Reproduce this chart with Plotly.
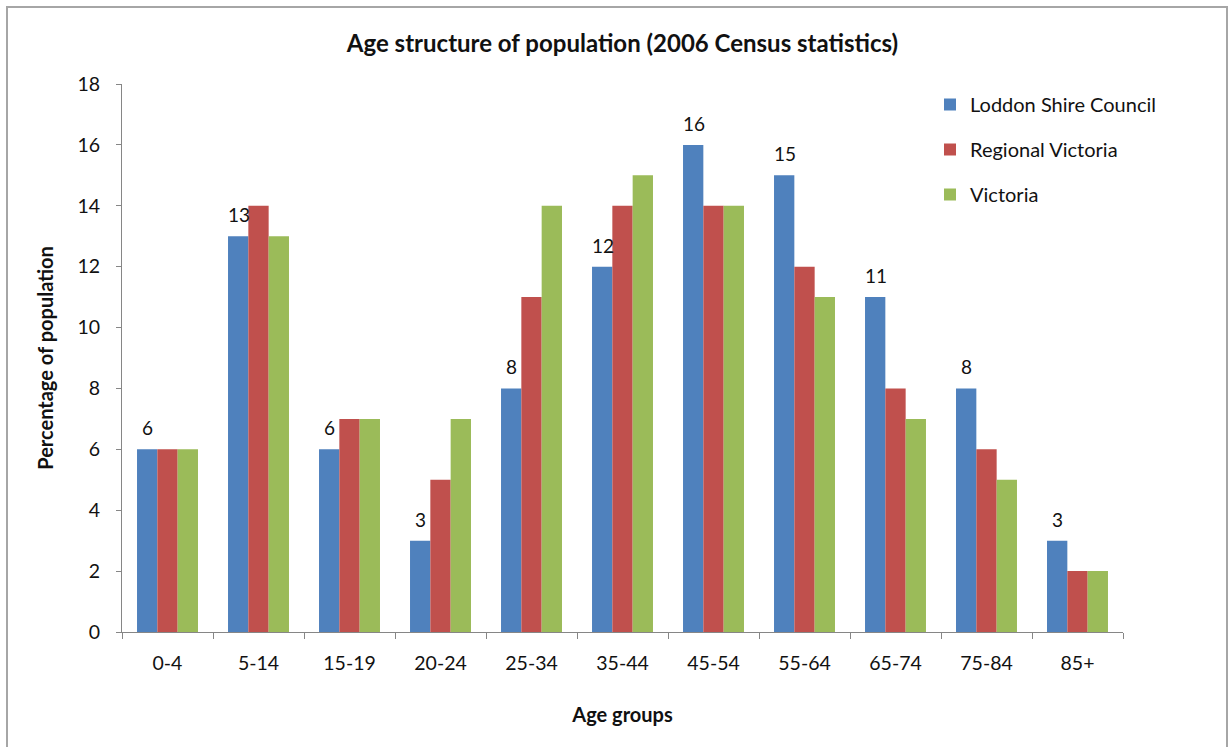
import plotly.graph_objects as go

age_groups = ["0-4", "5-14", "15-19", "20-24", "25-34", "35-44",
              "45-54", "55-64", "65-74", "75-84", "85+"]
loddon = [6, 13, 6, 3, 8, 12, 16, 15, 11, 8, 3]
regional = [6, 14, 7, 5, 11, 14, 14, 12, 8, 6, 2]
victoria = [6, 13, 7, 7, 14, 15, 14, 11, 7, 5, 2]

series_names = ["Loddon Shire Council", "Regional Victoria", "Victoria"]
series_colors = ["#4F81BD", "#C0504D", "#9BBB59"]

FONT = "Lato, Calibri, Arial, sans-serif"
TXT = "#111111"

fig = go.Figure()
for i, (name, vals, col) in enumerate(zip(series_names, [loddon, regional, victoria], series_colors)):
    fig.add_trace(go.Bar(
        x=age_groups, y=vals, name=name, marker=dict(color=col, line=dict(width=0)),
        legendgroup=f"g{i}",
    ))

# value labels over the Loddon bars (left bar of each group)
for cat, v in zip(age_groups, loddon):
    fig.add_annotation(
        x=cat, y=v, text=str(v), showarrow=False, xshift=-20, yshift=8,
        yanchor="bottom", font=dict(family=FONT, size=19, color=TXT),
    )

L, R, T, B = 122, 1123, 84, 632
W, H = 1229, 747
pw, ph = R - L, B - T

def px_x(x):
    return (x - L) / pw

def px_y(y):
    return (B - y) / ph

# outer chart frame
fig.add_shape(type="rect", xref="paper", yref="paper",
              x0=px_x(7), x1=px_x(1227), y0=px_y(770), y1=px_y(7),
              line=dict(color="#A6A6A6", width=2), layer="below")

fig.update_layout(
    width=W, height=H,
    margin=dict(l=L, r=W - R, t=T, b=H - B),
    paper_bgcolor="white", plot_bgcolor="white",
    barmode="group", bargap=0.33, bargroupgap=0,
    font=dict(family=FONT, size=19, color=TXT),
    title=dict(text="<b>Age structure of population (2006 Census statistics)</b>",
               x=0.5, xref="paper", xanchor="center", y=1 - 44 / H, yanchor="middle",
               font=dict(family=FONT, size=24, color=TXT)),
    legend=dict(x=px_x(930), y=px_y(85), xanchor="left", yanchor="top",
                traceorder="grouped", tracegroupgap=16,
                font=dict(family=FONT, size=20, color=TXT),
                bgcolor="rgba(0,0,0,0)", itemwidth=30),
    showlegend=True,
)

fig.update_xaxes(
    showline=True, linecolor="#868686", linewidth=1,
    ticks="outside", tickson="boundaries", ticklen=6, tickcolor="#868686",
    showgrid=False, tickfont=dict(family=FONT, size=19.5), ticklabelstandoff=14,
    title=dict(text="<b>Age groups</b>", font=dict(family=FONT, size=20), standoff=34),
)
fig.update_yaxes(
    range=[0, 18], dtick=2, showline=True, linecolor="#868686", linewidth=1,
    ticks="outside", ticklen=5, tickcolor="#868686", showgrid=False,
    zeroline=False, tickfont=dict(family=FONT, size=19.5), ticklabelstandoff=12,
    title=dict(text="<b>Percentage of population</b>", font=dict(family=FONT, size=20), standoff=18),
)

fig.write_html("out.html")
